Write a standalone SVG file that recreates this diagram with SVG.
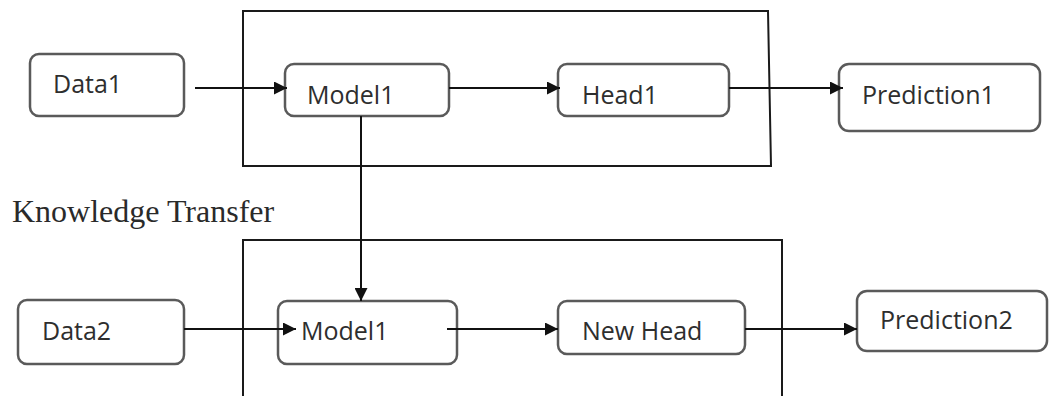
<svg xmlns="http://www.w3.org/2000/svg" width="1051" height="396" viewBox="0 0 1051 396">
  <style>
    .frame { fill: none; stroke: #1a1a1a; stroke-width: 2; }
    .node rect { fill: #ffffff; stroke: #5a5a5a; stroke-width: 2.5; }
    .node text { font-family: "Open Sans", "Liberation Sans", sans-serif; font-size: 25px; fill: #2e2e2e; }
    .edge { fill: none; stroke: #111; stroke-width: 2; marker-end: url(#arrow); }
    .caption { font-family: "Liberation Serif", "Times New Roman", serif; font-size: 32px; fill: #2a2a2a; }
  </style>
  <defs>
    <marker id="arrow" markerUnits="userSpaceOnUse" markerWidth="14" markerHeight="13" refX="13" refY="6.5" orient="auto">
      <path d="M0,0 L13,6.5 L0,13 Z" fill="#111"/>
    </marker>
  </defs>
  <rect width="1051" height="396" fill="#ffffff"/>

  <!-- enclosing frames -->
  <g id="frames">
    <path class="frame" d="M243,11 L768,11 L771,166 L243,166 Z"/>
    <path class="frame" d="M243,400 L243,240 L782,240 L782,400"/>
  </g>

  <text class="caption" x="12" y="222">Knowledge Transfer</text>

  <!-- top pipeline -->
  <g id="data1" class="node">
    <rect x="30" y="54" width="154" height="62" rx="9"/>
    <text x="53" y="93">Data1</text>
  </g>
  <g id="model1-top" class="node">
    <rect x="285" y="64" width="164" height="52" rx="9"/>
    <text x="307" y="104">Model1</text>
  </g>
  <g id="head1" class="node">
    <rect x="558" y="64" width="171" height="52" rx="9"/>
    <text x="582" y="104">Head1</text>
  </g>
  <g id="prediction1" class="node">
    <rect x="839" y="64" width="201" height="67" rx="10"/>
    <text x="862" y="104">Prediction1</text>
  </g>

  <!-- bottom pipeline -->
  <g id="data2" class="node">
    <rect x="18" y="300" width="166" height="64" rx="9"/>
    <text x="42" y="340">Data2</text>
  </g>
  <g id="model1-bottom" class="node">
    <rect x="278" y="301" width="179" height="63" rx="9"/>
    <text x="301" y="340">Model1</text>
  </g>
  <g id="new-head" class="node">
    <rect x="558" y="301" width="187" height="53" rx="9"/>
    <text x="582" y="340">New Head</text>
  </g>
  <g id="prediction2" class="node">
    <rect x="857" y="291" width="190" height="60" rx="10"/>
    <text x="880" y="329">Prediction2</text>
  </g>

  <!-- connectors -->
  <g id="connectors">
    <line class="edge" x1="195" y1="88" x2="287" y2="88"/>
    <line class="edge" x1="449" y1="88" x2="560" y2="88"/>
    <line class="edge" x1="729" y1="88" x2="843" y2="88"/>
    <line class="edge" x1="361" y1="116" x2="361" y2="301"/>
    <line class="edge" x1="184" y1="329" x2="296" y2="329"/>
    <line class="edge" x1="447" y1="329" x2="558" y2="329"/>
    <line class="edge" x1="745" y1="329" x2="857" y2="329"/>
  </g>
</svg>
